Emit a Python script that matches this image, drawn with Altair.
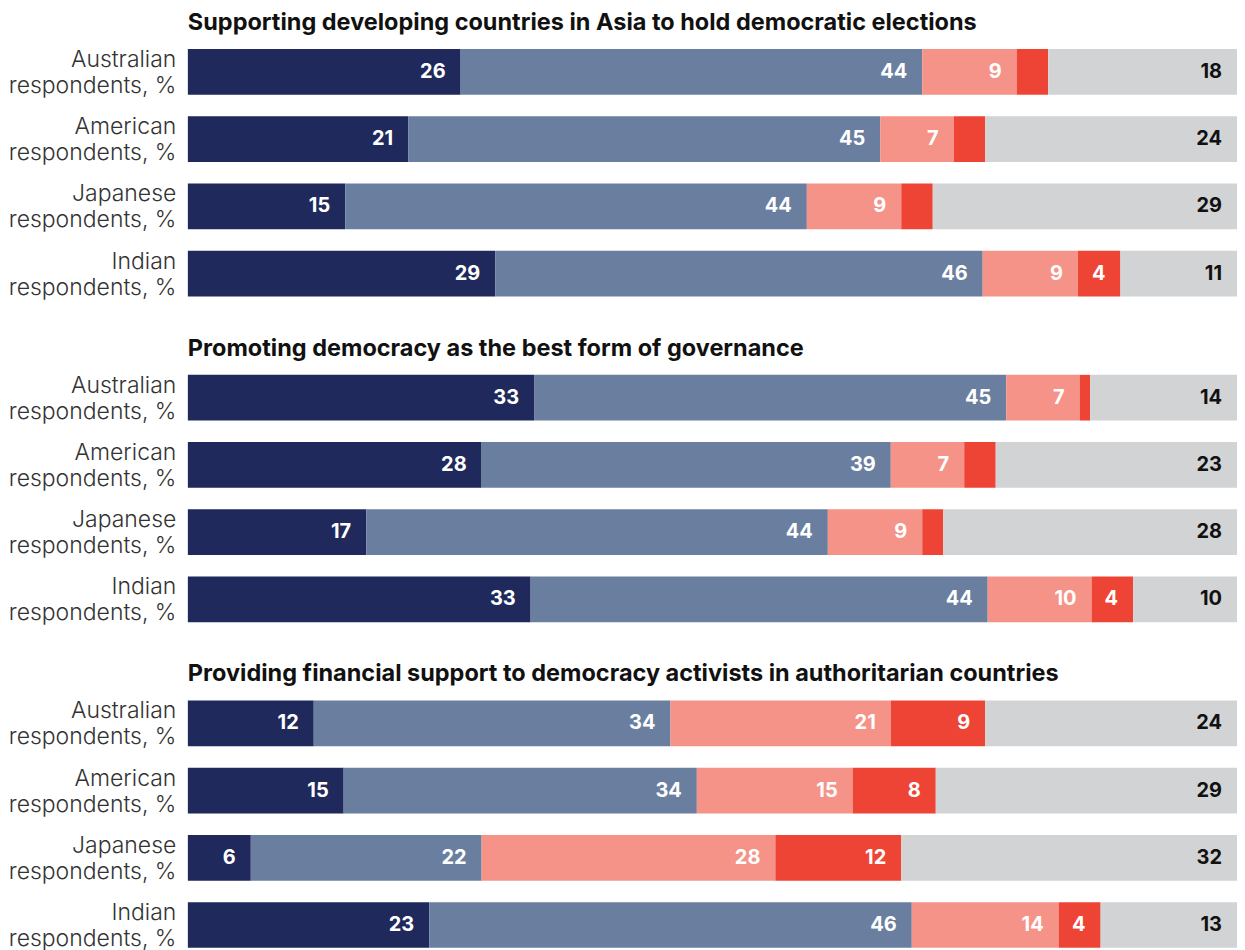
import altair as alt
import pandas as pd

titles = [
    "Supporting developing countries in Asia to hold democratic elections",
    "Promoting democracy as the best form of governance",
    "Providing financial support to democracy activists in authoritarian countries",
]
groups = ["Australian|respondents, %", "American|respondents, %",
          "Japanese|respondents, %", "Indian|respondents, %"]
segments = ["Strongly support", "Somewhat support", "Somewhat oppose",
            "Strongly oppose", "Not sure"]
seg_colors = ["#1f295b", "#6a7f9f", "#f59388", "#ee4436", "#d2d3d5"]
label_colors = ["#ffffff", "#ffffff", "#ffffff", "#ffffff", "#111111"]

# values per panel, per group: [strongly support, somewhat support, somewhat oppose, strongly oppose, not sure]
panel1 = [[26, 44, 9, 3, 18], [21, 45, 7, 3, 24], [15, 44, 9, 3, 29], [29, 46, 9, 4, 11]]
panel2 = [[33, 45, 7, 1, 14], [28, 39, 7, 3, 23], [17, 44, 9, 2, 28], [33, 44, 10, 4, 10]]
panel3 = [[12, 34, 21, 9, 24], [15, 34, 15, 8, 29], [6, 22, 28, 12, 32], [23, 46, 14, 4, 13]]
panels = [panel1, panel2, panel3]

rows = []
for p, (title, pdata) in enumerate(zip(titles, panels)):
    for g, vals in zip(groups, pdata):
        for i, (s, v) in enumerate(zip(segments, vals)):
            rows.append({"panel": p, "group": g, "seg": s, "order": i,
                         "value": v, "tcol": label_colors[i]})
df = pd.DataFrame(rows)

FONT = "Inter"

def make_panel(p):
    base = alt.Chart(df).transform_filter(
        alt.datum.panel == p
    ).transform_joinaggregate(
        total="sum(value)", groupby=["group"]
    ).transform_window(
        cum="sum(value)", sort=[alt.SortField("order")], groupby=["group"],
        frame=[None, 0]
    ).transform_calculate(
        end="datum.cum / datum.total",
        start="(datum.cum - datum.value) / datum.total",
    )
    yenc = alt.Y("group:N", sort=groups, title=None,
                 scale=alt.Scale(paddingInner=0.32, paddingOuter=0.16),
                 axis=alt.Axis(domain=False, ticks=False, labelPadding=12,
                               labelExpr="split(datum.label, '|')",
                               labelFont=FONT, labelFontSize=23,
                               labelFontWeight=300, labelColor="#333333",
                               labelLineHeight=26, labelLimit=300,
                               labelOffset=-12))
    xscale = alt.Scale(domain=[0, 1], nice=False, zero=True)
    bars = base.mark_bar(cornerRadius=0).encode(
        x=alt.X("start:Q", scale=xscale, axis=None),
        x2="end:Q",
        y=yenc,
        color=alt.Color("seg:N", scale=alt.Scale(domain=segments, range=seg_colors),
                        legend=None),
    )
    text = base.transform_filter(alt.datum.value >= 4).mark_text(
        align="right", baseline="middle", dx=-15, font=FONT, fontSize=20,
        fontWeight="bold"
    ).encode(
        x=alt.X("end:Q", scale=xscale, axis=None),
        y=yenc,
        text=alt.Text("value:Q"),
        color=alt.Color("tcol:N", scale=None),
    )
    return alt.layer(bars, text).properties(
        width=1050, height=269,
        title=alt.TitleParams(titles[p], anchor="start", frame="group", font=FONT,
                              fontSize=23.5, fontWeight="bold", color="#111111",
                              offset=4),
    )

chart = alt.vconcat(*[make_panel(p) for p in range(3)], spacing=29).properties(
    padding={"top": 2, "left": 0, "right": 0, "bottom": 0}
).configure_view(stroke=None)

chart.save("out.html", embed_options={"renderer": "svg", "actions": False})
